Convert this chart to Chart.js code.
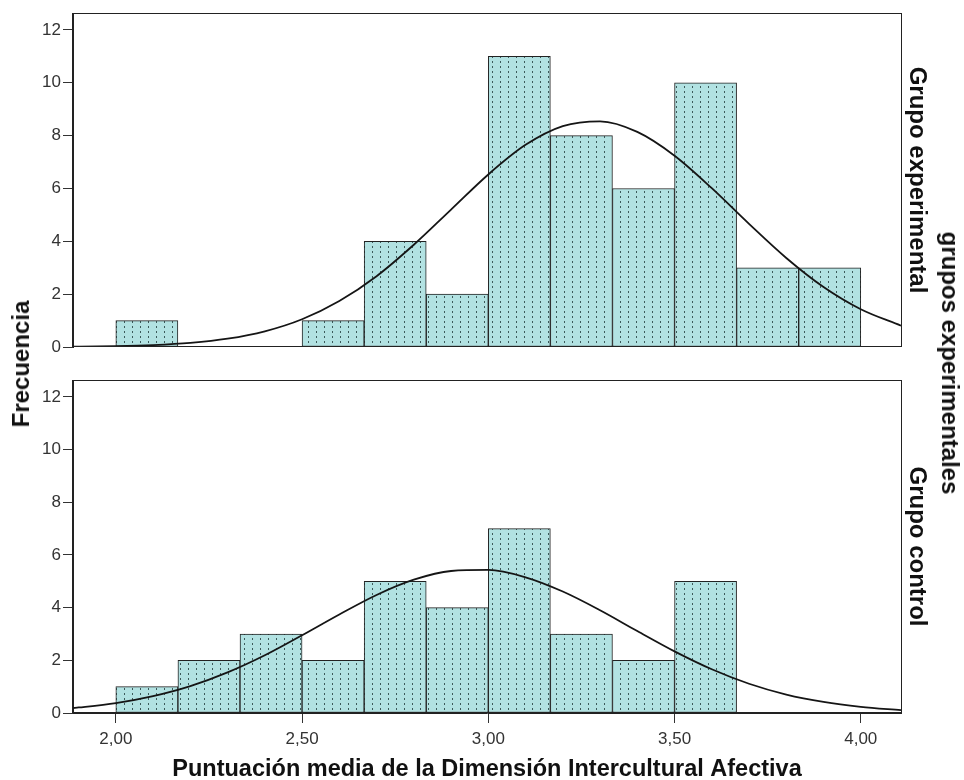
<!DOCTYPE html>
<html>
<head>
<meta charset="utf-8">
<script src="https://cdn.jsdelivr.net/npm/chart.js@4.4.1/dist/chart.umd.min.js"></script>
<style>
  html, body { margin: 0; padding: 0; background: #fff; }
  body { width: 964px; height: 780px; position: relative; overflow: hidden; font-family: 'Liberation Sans', Arial, sans-serif; }
  .panel { position: absolute; left: 0; width: 964px; }
  .vlabel { position: absolute; white-space: nowrap; font-weight: bold; font-size: 24px; line-height: 1; color: #111; }
</style>
</head>
<body>
<div class="panel" style="top:0;height:360px"><canvas id="topChart"></canvas></div>
<div class="panel" style="top:367px;height:413px"><canvas id="bottomChart"></canvas></div>
<div class="vlabel" id="freqLabel" style="left:21px;top:364px;transform:translate(-50%,-50%) rotate(-90deg)">Frecuencia</div>
<div class="vlabel" id="groupsLabel" style="left:950px;top:363px;transform:translate(-50%,-50%) rotate(90deg)">grupos experimentales</div>
<script>
// bins of the histogram (width 1/6), centres
const binCenters = [2.0833, 2.25, 2.4167, 2.5833, 2.75, 2.9167, 3.0833, 3.25, 3.4167, 3.5833, 3.75, 3.9167];
const expCounts = [1, 0, 0, 1, 4, 2, 11, 8, 6, 10, 3, 3];
const ctrlCounts = [1, 2, 3, 2, 5, 4, 7, 3, 2, 5, 0, 0];

// normal curves
const curveX = [1.885, 1.9, 2.0, 2.1, 2.2, 2.3, 2.4, 2.5, 2.6, 2.7, 2.8, 2.9, 3.0, 3.1, 3.2, 3.3, 3.4, 3.5, 3.6, 3.7, 3.8, 3.9, 4.0, 4.108];
const expCurve = [0.011, 0.012, 0.03, 0.071, 0.154, 0.313, 0.593, 1.05, 1.74, 2.68, 3.87, 5.2, 6.53, 7.65, 8.36, 8.54, 8.14, 7.24, 6.01, 4.66, 3.37, 2.27, 1.43, 0.81];
const ctrlCurve = [0.19, 0.21, 0.375, 0.64, 1.02, 1.54, 2.19, 2.95, 3.74, 4.48, 5.06, 5.39, 5.43, 5.15, 4.61, 3.9, 3.11, 2.34, 1.66, 1.11, 0.7, 0.42, 0.236, 0.11];

const yTicks = [0, 2, 4, 6, 8, 10, 12];
const xTicks = [2.0, 2.5, 3.0, 3.5, 4.0];
const xTickLabels = ['2,00', '2,50', '3,00', '3,50', '4,00'];

const FONT = "'Liberation Sans', Arial, sans-serif";
Chart.defaults.font.family = FONT;
Chart.defaults.color = '#333';

// dotted fill of the bars
function makePattern() {
    const c = document.createElement('canvas');
    c.width = 8; c.height = 5;
    const g = c.getContext('2d');
    g.fillStyle = '#b2e2e2';
    g.fillRect(0, 0, 8, 5);
    g.fillStyle = '#3c5a5a';
    g.fillRect(4, 1, 1, 2);
    return g.createPattern(c, 'repeat');
}
const barFill = makePattern();

const framePlugin = {
    id: 'frame',
    afterDraw(chart) {
        const { ctx, chartArea: a } = chart;
        ctx.save();
        ctx.strokeStyle = '#222';
        ctx.lineWidth = 1;
        ctx.strokeRect(Math.round(a.left) - 0.5, Math.round(a.top) + 0.5,
            Math.round(a.right - a.left) + 1, Math.round(a.bottom - a.top) - 1);
        ctx.restore();
    }
};

function makePanel(canvasId, counts, curve, groupName, showX) {
    new Chart(document.getElementById(canvasId), {
        type: 'bar',
        data: {
            datasets: [{
                type: 'line',
                data: curveX.map((x, i) => ({ x: x, y: curve[i] })),
                borderColor: '#151515',
                borderWidth: 1.8,
                pointRadius: 0,
                cubicInterpolationMode: 'monotone',
                order: 0
            }, {
                data: binCenters.map((x, i) => ({ x: x, y: counts[i] })),
                backgroundColor: barFill,
                borderColor: '#222',
                borderWidth: 1,
                borderSkipped: false,
                barPercentage: 1.0,
                categoryPercentage: 1.0,
                order: 1
            }]
        },
        options: {
            responsive: true,
            maintainAspectRatio: false,
            animation: false,
            layout: { padding: { top: 13, bottom: showX ? 0 : 13, left: 0, right: 23 } },
            plugins: { legend: { display: false }, tooltip: { enabled: false } },
            scales: {
                x: {
                    type: 'linear',
                    min: 1.885,
                    max: 4.108,
                    offset: false,
                    display: showX,
                    afterBuildTicks: s => { s.ticks = xTicks.map(v => ({ value: v })); },
                    afterFit: s => { s.height = showX ? 67 : 0; },
                    grid: { display: true, offset: false, drawOnChartArea: false, tickLength: 10, color: '#333' },
                    border: { display: true, color: '#222' },
                    ticks: {
                        padding: 6,
                        font: { size: 17 },
                        color: '#333',
                        maxRotation: 0,
                        callback: v => xTickLabels[xTicks.indexOf(v)]
                    },
                    title: {
                        display: true,
                        text: 'Puntuación media de la Dimensión Intercultural Afectiva',
                        font: { size: 23.5, weight: 'bold', lineHeight: 0.85 },
                        color: '#111',
                        padding: { top: 0, bottom: 0 }
                    }
                },
                y: {
                    position: 'left',
                    min: 0,
                    max: 12.64,
                    afterBuildTicks: s => { s.ticks = yTicks.map(v => ({ value: v })); },
                    afterFit: s => { s.width = 73; },
                    grid: { display: true, drawOnChartArea: false, tickLength: 10, color: '#333' },
                    border: { display: true, color: '#222' },
                    ticks: { padding: 2, font: { size: 17 }, color: '#333' }
                },
                y2: {
                    position: 'right',
                    afterFit: s => { s.width = 40; },
                    grid: { display: false },
                    border: { display: false },
                    ticks: { display: false },
                    title: {
                        display: true,
                        text: groupName,
                        font: { size: 24, weight: 'bold', lineHeight: 1.2 },
                        color: '#111',
                        padding: { top: 10, bottom: 0 }
                    }
                }
            }
        },
        plugins: [framePlugin]
    });
}

makePanel('topChart', expCounts, expCurve, 'Grupo experimental', false);
makePanel('bottomChart', ctrlCounts, ctrlCurve, 'Grupo control', true);
</script>
</body>
</html>
